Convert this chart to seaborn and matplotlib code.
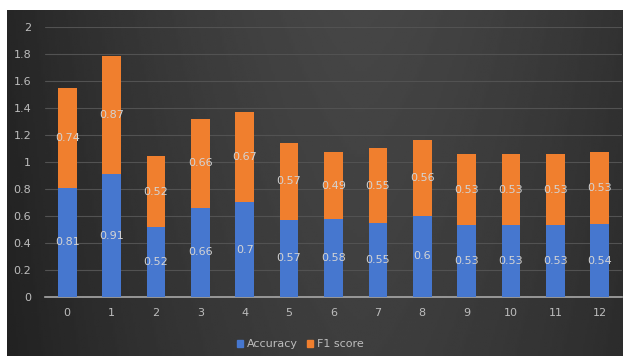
import numpy as np
import pandas as pd
import matplotlib
matplotlib.use("Agg")
import matplotlib.pyplot as plt
import seaborn as sns
from matplotlib.patches import Patch

categories = [str(i) for i in range(13)]
accuracy = [0.81, 0.91, 0.52, 0.66, 0.7, 0.57, 0.58, 0.55, 0.6, 0.53, 0.53, 0.53, 0.54]
f1_score = [0.74, 0.87, 0.52, 0.66, 0.67, 0.57, 0.49, 0.55, 0.56, 0.53, 0.53, 0.53, 0.53]

df = pd.DataFrame({"cat": categories, "Accuracy": accuracy, "F1 score": f1_score})
df["total"] = df["Accuracy"] + df["F1 score"]

blue = "#4677CF"
orange = "#F07F2E"
txt = "#d4d4d4"

sns.set_style("white")
plt.rcParams["font.family"] = ["DejaVu Sans"]

fig = plt.figure(figsize=(6.23, 3.56), dpi=100)
fig.patch.set_facecolor("white")

# dark background panel with soft horizontal gradient
bg = fig.add_axes([7 / 623, 0, 1 - 7 / 623, 1 - 10 / 356])
xs = np.linspace(-1, 1, 300)
grad = 0.17 + 0.10 * (1 - np.abs(xs - 0.15) ** 1.5)
ys = np.linspace(0, 1, 100)[:, None]
img = grad[None, :] * (0.9 + 0.12 * ys)
bg.imshow(img, cmap="gray", vmin=0, vmax=1, aspect="auto", origin="lower")
bg.set_axis_off()

ax = fig.add_axes([45 / 623, 59 / 356, 577 / 623, 270.3 / 356])
ax.patch.set_alpha(0)

sns.barplot(data=df, x="cat", y="total", color=orange, width=0.42,
            saturation=1, linewidth=0, ax=ax, zorder=3)
sns.barplot(data=df, x="cat", y="Accuracy", color=blue, width=0.42,
            saturation=1, linewidth=0, ax=ax, zorder=4)

for i, (a, f) in enumerate(zip(accuracy, f1_score)):
    ax.text(i, a / 2, f"{a:g}", ha="center", va="center", color=txt,
            fontsize=8, zorder=5)
    ax.text(i, a + f / 2, f"{f:g}", ha="center", va="center", color=txt,
            fontsize=8, zorder=5)

ax.set_xlim(-0.5, 12.5)
ax.set_ylim(0, 2)
ax.set_yticks(np.arange(0, 2.01, 0.2))
ax.set_yticklabels(["0", "0.2", "0.4", "0.6", "0.8", "1", "1.2", "1.4", "1.6", "1.8", "2"])
ax.yaxis.grid(True, color="#525252", linewidth=0.8, zorder=0)
ax.set_axisbelow(True)
for s in ["top", "right", "left"]:
    ax.spines[s].set_visible(False)
ax.spines["bottom"].set_color("#a8a8a8")
ax.spines["bottom"].set_linewidth(1.2)
ax.tick_params(axis="both", length=0, colors="#bdbdbd", labelsize=8, pad=8)
ax.tick_params(axis="y", pad=10)
ax.set_xlabel("")
ax.set_ylabel("")

handles = [Patch(color=blue, label="Accuracy"), Patch(color=orange, label="F1 score")]
leg = fig.legend(handles=handles, loc="center", bbox_to_anchor=(300 / 623, 12 / 356),
                 ncol=2, frameon=False, fontsize=8, handlelength=0.6, handleheight=0.6,
                 handletextpad=0.3, columnspacing=0.8)
for t in leg.get_texts():
    t.set_color("#bdbdbd")

fig.savefig("out.png", dpi=100)
